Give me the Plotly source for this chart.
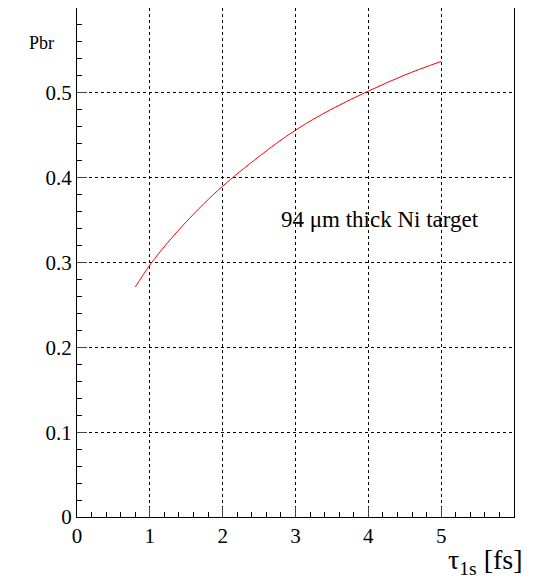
import plotly.graph_objects as go

tau = [0.8, 1.0, 1.25, 1.5, 1.75, 2.0, 2.5, 3.0, 3.5, 4.0, 4.5, 5.0]
pbr = [0.271, 0.297, 0.324, 0.348, 0.370, 0.390, 0.425, 0.456, 0.481, 0.502, 0.521, 0.537]

x_ticks = [0, 1, 2, 3, 4, 5]
y_ticks = [0, 0.1, 0.2, 0.3, 0.4, 0.5]

fig = go.Figure(go.Scatter(x=tau, y=pbr, mode="lines", line=dict(color="red", width=1, shape="spline"),
                           showlegend=False))

axis = dict(showline=True, linecolor="black", linewidth=1, mirror=True, ticks="inside", ticklen=10,
            showgrid=True, gridcolor="black", griddash="dot", gridwidth=1, zeroline=False,
            minor=dict(ticks="inside", ticklen=5, tickcolor="black", showgrid=False),
            tickfont=dict(size=21, family="Liberation Serif", color="black"))

fig.update_layout(
    width=527, height=571, paper_bgcolor="white", plot_bgcolor="white",
    margin=dict(l=69, r=21, t=0, b=62),
    xaxis=dict(axis, range=[0, 6], tickvals=x_ticks, minor=dict(axis["minor"], dtick=0.2)),
    yaxis=dict(axis, range=[0, 0.6], tickvals=y_ticks, minor=dict(axis["minor"], dtick=0.02)),
    font=dict(family="Liberation Serif", color="black"),
    annotations=[
        dict(text="94 μm thick Ni target", x=4.16, y=0.351, xref="x", yref="y", showarrow=False,
             font=dict(size=23)),
        dict(text="Pbr", x=-0.115, y=0.955, xref="paper", yref="paper", showarrow=False,
             font=dict(size=18)),
        dict(text="τ<sub>1s</sub> [fs]", x=1.025, y=-0.05, xref="paper", yref="paper", xanchor="right",
             yanchor="top", showarrow=False, font=dict(size=28)),
    ],
)
fig.write_html("out.html")
